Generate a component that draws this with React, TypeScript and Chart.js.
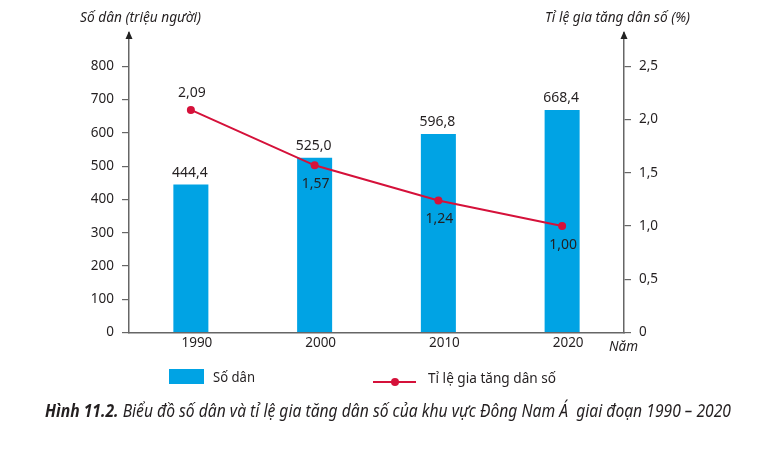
import React, { useEffect, useLayoutEffect, useRef } from "react";
import { Chart, registerables } from "chart.js";

Chart.register(...registerables);

const years = ["1990", "2000", "2010", "2020"];
const population = [444.4, 525.0, 596.8, 668.4];
const growthRate = [2.09, 1.57, 1.24, 1.0];
const populationLabels = ["444,4", "525,0", "596,8", "668,4"];
const growthLabels = ["2,09", "1,57", "1,24", "1,00"];
const growthLabelAbove = [true, false, false, false];

const BLUE = "#00A3E4";
const RED = "#D5113A";
const AXIS = "#666666";
const TEXT = "#231F20";
const FONT = "'Noto Sans', 'Open Sans', sans-serif";

const overlayPlugin = {
  id: "overlay",
  afterDatasetsDraw(chart: any) {
    const ctx = chart.ctx;
    const { left, right, top } = chart.chartArea;
    ctx.save();
    ctx.fillStyle = "#222";
    for (const x of [left, right]) {
      ctx.beginPath();
      ctx.moveTo(x, top - 2);
      ctx.lineTo(x - 3.5, top + 6);
      ctx.lineTo(x + 3.5, top + 6);
      ctx.closePath();
      ctx.fill();
    }
    ctx.font = `14px ${FONT}`;
    ctx.fillStyle = TEXT;
    ctx.textAlign = "center";
    ctx.textBaseline = "middle";
    const barMeta = chart.getDatasetMeta(0);
    barMeta.data.forEach((el: any, i: number) => {
      ctx.fillText(populationLabels[i], el.x - 1, el.y - 12);
    });
    const lineMeta = chart.getDatasetMeta(1);
    lineMeta.data.forEach((el: any, i: number) => {
      const dy = growthLabelAbove[i] ? -17 : 19;
      ctx.fillText(growthLabels[i], el.x + 1, el.y + dy);
    });
    ctx.restore();
  },
};

function FitText(props: {
  x: number;
  y: number;
  width: number;
  style?: React.CSSProperties;
  children: React.ReactNode;
}) {
  const r = useRef<HTMLDivElement>(null);
  useLayoutEffect(() => {
    const el = r.current;
    if (!el) return;
    el.style.transform = "none";
    const w = el.getBoundingClientRect().width;
    if (w > 0) el.style.transform = `scaleX(${props.width / w})`;
  });
  return (
    <div
      ref={r}
      style={{
        position: "absolute",
        left: props.x,
        top: props.y,
        whiteSpace: "nowrap",
        color: TEXT,
        fontFamily: FONT,
        lineHeight: 1,
        transformOrigin: "0 0",
        ...props.style,
      }}
    >
      {props.children}
    </div>
  );
}

export default function App() {
  const ref = useRef<HTMLCanvasElement>(null);
  useEffect(() => {
    if (!ref.current) return;
    const chart = new Chart(ref.current, {
      type: "bar",
      data: {
        labels: years,
        datasets: [
          {
            type: "bar",
            label: "Số dân",
            data: population,
            backgroundColor: BLUE,
            yAxisID: "y",
            barPercentage: 0.283,
            categoryPercentage: 1,
            order: 2,
          },
          {
            type: "line",
            label: "Tỉ lệ gia tăng dân số",
            data: growthRate,
            borderColor: RED,
            backgroundColor: RED,
            borderWidth: 2,
            pointRadius: 4,
            pointBackgroundColor: RED,
            pointBorderWidth: 0,
            yAxisID: "y1",
            order: 1,
          } as any,
        ],
      },
      options: {
        animation: false,
        responsive: true,
        maintainAspectRatio: false,
        layout: { padding: { top: 33, left: 0, right: 0, bottom: 0 } },
        plugins: {
          legend: { display: false },
          tooltip: { enabled: false },
          title: { display: false },
        },
        scales: {
          x: {
            grid: { display: false, drawTicks: false },
            border: { display: true, color: AXIS, width: 1.5 },
            ticks: {
              color: TEXT,
              font: { family: FONT, size: 13.5 },
              padding: 3,
              labelOffset: 6,
            },
            afterFit(scale: any) {
              scale.height = 451 - 332.5;
            },
          },
          y: {
            position: "left",
            min: 0,
            max: 900,
            ticks: {
              stepSize: 100,
              color: TEXT,
              font: { family: FONT, size: 13.5 },
              padding: 8,
            },
            grid: {
              drawOnChartArea: false,
              drawTicks: true,
              tickLength: 7,
              color: AXIS,
              lineWidth: 1.2,
            },
            border: { display: true, color: AXIS, width: 1.5 },
            afterBuildTicks(scale: any) {
              scale.ticks = scale.ticks.filter((t: any) => t.value <= 800);
            },
            afterFit(scale: any) {
              scale.width = 129;
            },
          },
          y1: {
            position: "right",
            min: 0,
            max: 2.8125,
            ticks: {
              stepSize: 0.5,
              color: TEXT,
              font: { family: FONT, size: 13.5 },
              padding: 8,
              callback: (v: any) =>
                Number(v) === 0 ? "0" : Number(v).toFixed(1).replace(".", ","),
            },
            grid: {
              drawOnChartArea: false,
              drawTicks: true,
              tickLength: 7,
              color: AXIS,
              lineWidth: 1.2,
            },
            border: { display: true, color: AXIS, width: 1.5 },
            afterBuildTicks(scale: any) {
              scale.ticks = scale.ticks.filter((t: any) => t.value <= 2.5 + 1e-9);
            },
            afterFit(scale: any) {
              scale.width = 778 - 624;
            },
          },
        },
      } as any,
      plugins: [overlayPlugin],
    });
    return () => chart.destroy();
  }, []);

  const box = (x: number, y: number, w: number, h: number, extra?: React.CSSProperties): React.CSSProperties => ({
    position: "absolute",
    left: x,
    top: y,
    width: w,
    height: h,
    ...extra,
  });

  return (
    <div
      style={{
        position: "fixed",
        left: 0,
        top: 0,
        width: 778,
        height: 451,
        background: "#fff",
        overflow: "hidden",
      }}
    >
      <canvas ref={ref} width={778} height={451} style={{ position: "absolute", left: 0, top: 0 }} />
      <FitText x={80} y={10} width={121} style={{ fontSize: 14, fontStyle: "italic" }}>
        Số dân (triệu người)
      </FitText>
      <FitText x={545} y={10} width={145} style={{ fontSize: 14, fontStyle: "italic" }}>
        Tỉ lệ gia tăng dân số (%)
      </FitText>
      <FitText x={609} y={339} width={29} style={{ fontSize: 14, fontStyle: "italic" }}>
        Năm
      </FitText>
      <div style={box(169, 369, 35, 15, { background: BLUE })} />
      <FitText x={213} y={370} width={42} style={{ fontSize: 14 }}>
        Số dân
      </FitText>
      <div style={box(373, 381, 43, 2, { background: RED })} />
      <div style={box(391, 378, 8, 8, { borderRadius: 4, background: RED })} />
      <FitText x={428} y={371} width={128} style={{ fontSize: 14 }}>
        Tỉ lệ gia tăng dân số
      </FitText>
      <FitText
        x={45}
        y={401}
        width={686}
        style={{ fontSize: 18, fontStyle: "italic", fontFamily: FONT }}
      >
        <b>Hình 11.2.</b> Biểu đồ số dân và tỉ lệ gia tăng dân số của khu vực Đông Nam Á&nbsp; giai đoạn 1990 – 2020
      </FitText>
    </div>
  );
}
